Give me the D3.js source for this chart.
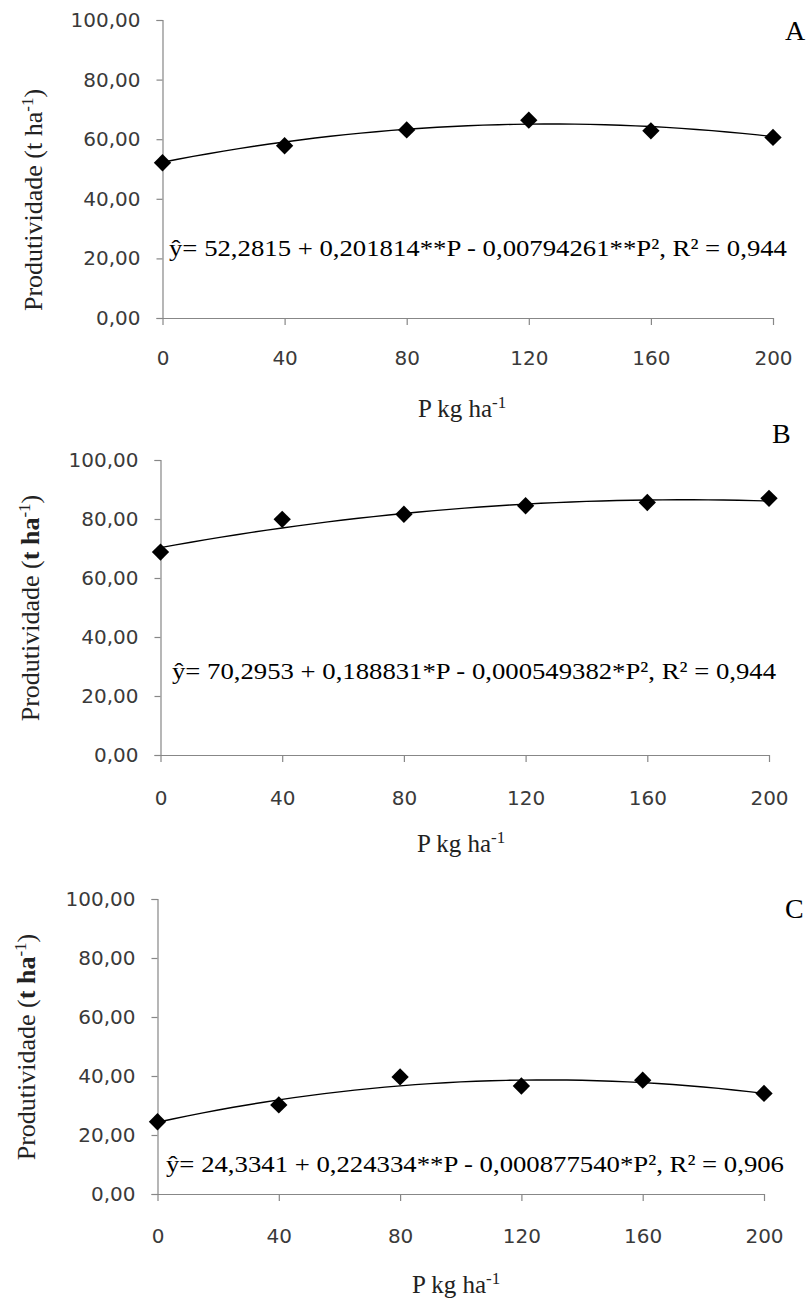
<!DOCTYPE html>
<html>
<head>
<meta charset="utf-8">
<script src="https://cdn.jsdelivr.net/npm/d3@7"></script>
<style>
  html, body { margin: 0; padding: 0; background: #fff; }
  svg { display: block; }
</style>
</head>
<body>
<svg id="chart" width="812" height="1300"></svg>
<script>
// ---- Data ----
const doseP = [0, 40, 80, 120, 160, 200];
const xTickLabels = ["0", "40", "80", "120", "160", "200"];
const yTickValues = [0, 20, 40, 60, 80, 100];
const yTickLabels = ["0,00", "20,00", "40,00", "60,00", "80,00", "100,00"];

const yieldA = [52.1, 57.8, 63.1, 66.4, 62.8, 60.6];
const yieldB = [68.8, 79.9, 81.6, 84.5, 85.6, 87.0];
const yieldC = [24.5, 30.2, 39.7, 36.6, 38.6, 34.1];

// trend-line coefficients (b0, b1, b2) as fitted
const coefA = [52.2815, 0.201814, -0.000794261];
const coefB = [70.2953, 0.188831, -0.000549382];
const coefC = [24.3341, 0.224334, -0.000877540];

const eqA = "ŷ= 52,2815 + 0,201814**P - 0,00794261**P², R² = 0,944";
const eqB = "ŷ= 70,2953 + 0,188831*P - 0,000549382*P², R² = 0,944";
const eqC = "ŷ= 24,3341 + 0,224334**P - 0,000877540*P², R² = 0,906";

const panelLabels = ["A", "B", "C"];

// ---- Layout (positions only) ----
const panels = [
  { label: panelLabels[0], values: yieldA, coef: coefA, eq: eqA, boldUnit: false,
    x0: 162.5, x1: 773, yTop: 20, yBot: 318,
    eqX: 169, eqX2: 787, eqY: 256,
    xLabY: 365, xTitleX: 418, xTitleY: 417,
    yTitleX: 42, yTitleYc: 200,
    labX: 785, labY: 40 },
  { label: panelLabels[1], values: yieldB, coef: coefB, eq: eqB, boldUnit: true,
    x0: 160.5, x1: 769, yTop: 460, yBot: 755,
    eqX: 172, eqX2: 776, eqY: 679,
    xLabY: 805, xTitleX: 417, xTitleY: 852,
    yTitleX: 39, yTitleYc: 608,
    labX: 772, labY: 443 },
  { label: panelLabels[2], values: yieldC, coef: coefC, eq: eqC, boldUnit: true,
    x0: 157.5, x1: 764, yTop: 899, yBot: 1194,
    eqX: 166, eqX2: 784, eqY: 1172,
    xLabY: 1243, xTitleX: 412, xTitleY: 1293,
    yTitleX: 35, yTitleYc: 1047,
    labX: 785, labY: 918 }
];

const svg = d3.select("#chart");
const axisColor = "#878787";
const tickFont = "'DejaVu Sans', Verdana, sans-serif";
const serif = "'Liberation Serif', 'Times New Roman', serif";

panels.forEach(p => {
  const x = d3.scaleLinear().domain([0, 200]).range([p.x0, p.x1]);
  const y = d3.scaleLinear().domain([0, 100]).range([p.yBot, p.yTop]);
  const g = svg.append("g");

  // y axis
  const yAxis = d3.axisLeft(y).tickValues(yTickValues)
    .tickFormat((d, i) => yTickLabels[i]).tickSize(6).tickPadding(16);
  const ya = g.append("g").attr("transform", `translate(${p.x0},0)`).call(yAxis);
  ya.select(".domain").attr("stroke", axisColor).attr("stroke-width", 1.2);
  ya.selectAll(".tick line").attr("stroke", axisColor).attr("stroke-width", 1.2);
  ya.selectAll(".tick text").attr("font-family", tickFont).attr("font-size", 20)
    .attr("fill", "#3a3a3a");

  // x axis
  const xAxis = d3.axisBottom(x).tickValues(doseP)
    .tickFormat((d, i) => xTickLabels[i]).tickSize(7).tickSizeOuter(0).tickPadding(0);
  const xa = g.append("g").attr("transform", `translate(0,${p.yBot})`).call(xAxis);
  xa.select(".domain").attr("stroke", axisColor).attr("stroke-width", 1.2);
  xa.selectAll(".tick line").attr("stroke", axisColor).attr("stroke-width", 1.2);
  xa.selectAll(".tick text").attr("font-family", tickFont).attr("font-size", 20)
    .attr("fill", "#3a3a3a").attr("dy", null)
    .attr("y", p.xLabY - p.yBot);

  // trend curve from fitted coefficients
  const curveX = d3.range(0, 200.001, 5);
  const line = d3.line()
    .x(d => x(d))
    .y(d => y(p.coef[0] + p.coef[1] * d + p.coef[2] * d * d));
  g.append("path").datum(curveX).attr("d", line)
    .attr("fill", "none").attr("stroke", "#000").attr("stroke-width", 1.4);

  // diamond markers
  const sym = d3.symbol().type(d3.symbolSquare).size(150);
  g.selectAll("path.pt").data(doseP).join("path").attr("class", "pt")
    .attr("d", sym)
    .attr("transform", (d, i) => `translate(${x(d)},${y(p.values[i])}) rotate(45)`)
    .attr("fill", "#000");

  // equation
  g.append("text").attr("x", p.eqX).attr("y", p.eqY)
    .attr("font-family", serif).attr("font-size", 24).attr("fill", "#000")
    .attr("textLength", p.eqX2 - p.eqX).attr("lengthAdjust", "spacingAndGlyphs")
    .text(p.eq);

  // x title
  const xt = g.append("text").attr("x", p.xTitleX).attr("y", p.xTitleY)
    .attr("font-family", serif).attr("font-size", 25).attr("fill", "#222");
  xt.append("tspan").text("P kg ha");
  xt.append("tspan").attr("font-size", 17).attr("dy", -9).text("-1");

  // y title
  const yt = g.append("text")
    .attr("transform", `translate(${p.yTitleX},${p.yTitleYc}) rotate(-90)`)
    .attr("text-anchor", "middle")
    .attr("font-family", serif).attr("font-size", 26).attr("fill", "#222");
  yt.append("tspan").text("Produtividade (");
  yt.append("tspan").attr("font-weight", p.boldUnit ? "bold" : "normal").text("t ha");
  yt.append("tspan").attr("font-size", 17).attr("dy", -9).text("-1");
  yt.append("tspan").attr("dy", 9).text(")");

  // panel label
  g.append("text").attr("x", p.labX).attr("y", p.labY)
    .attr("font-family", serif).attr("font-size", 28).attr("fill", "#000")
    .text(p.label);
});
</script>
</body>
</html>
